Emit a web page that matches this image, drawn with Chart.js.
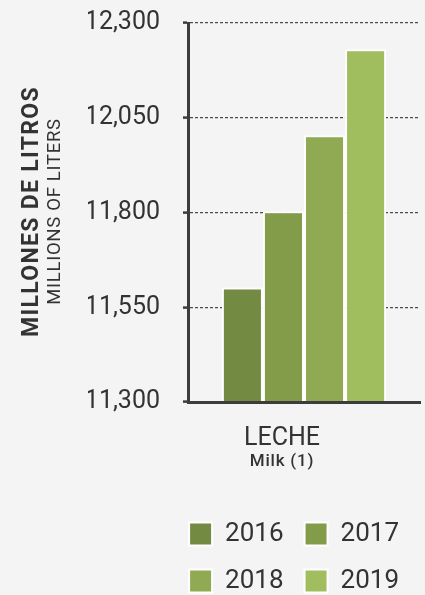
<!DOCTYPE html>
<html>
<head>
<meta charset="utf-8">
<script src="https://cdn.jsdelivr.net/npm/chart.js@4.4.0/dist/chart.umd.min.js"></script>
<style>
html,body{margin:0;padding:0;background:#f4f4f4;overflow:hidden;}
canvas{display:block;}
</style>
</head>
<body>
<canvas id="c" width="425" height="595"></canvas>
<script>
// ---- data ----
const categories = ['LECHE'];
const categorySubtitles = ['Milk (1)'];
const years = ['2016', '2017', '2018', '2019'];
const values2016 = [11602];
const values2017 = [11803];
const values2018 = [12004];
const values2019 = [12231];
const yTickValues = [11300, 11550, 11800, 12050, 12300];
const yTitle = 'MILLONES DE LITROS';
const ySubtitle = 'MILLIONS OF LITERS';

// ---- styles ----
const barColors = ['#738a43', '#829c4a', '#8faa52', '#a1be5f'];
const textColor = '#333333';
const axisColor = '#3c3c3c';

const seriesValues = [values2016, values2017, values2018, values2019];

Chart.defaults.font.family = 'Roboto';
Chart.defaults.color = textColor;

const textPlugin = {
  id: 'extraTexts',
  afterDraw(chart) {
    const {ctx, chartArea, scales} = chart;
    const cy = (chartArea.top + chartArea.bottom) / 2 - 1;
    ctx.save();
    ctx.fillStyle = textColor;
    ctx.textAlign = 'center';
    ctx.textBaseline = 'alphabetic';
    // rotated y titles
    ctx.save();
    ctx.translate(38, cy);
    ctx.rotate(-Math.PI / 2);
    ctx.font = 'bold 23px Roboto';
    ctx.letterSpacing = '1.3px';
    ctx.fillText(yTitle, 0, 0);
    ctx.restore();
    ctx.save();
    ctx.translate(60, cy);
    ctx.rotate(-Math.PI / 2);
    ctx.font = '18.5px Roboto';
    ctx.letterSpacing = '0.7px';
    ctx.fillText(ySubtitle, 0, 0);
    ctx.restore();
    // category subtitle
    const xs = scales.x;
    categorySubtitles.forEach((t, i) => {
      const px = xs.getPixelForTick(i) + xs.options.ticks.labelOffset;
      ctx.font = '500 17px Roboto';
      ctx.letterSpacing = '0.8px';
      ctx.fillText(t, px, 466);
    });
    ctx.restore();
  }
};

new Chart(document.getElementById('c'), {
  type: 'bar',
  data: {
    labels: categories,
    datasets: years.map((y, i) => ({
      label: y,
      data: seriesValues[i],
      backgroundColor: barColors[i],
      borderColor: '#ffffff',
      borderWidth: 2,
      borderSkipped: false,
      categoryPercentage: 0.708,
      barPercentage: 1
    }))
  },
  options: {
    responsive: false,
    animation: false,
    devicePixelRatio: 1,
    locale: 'en-US',
    layout: { padding: { left: 88, right: 5, top: 23, bottom: 0 } },
    plugins: {
      tooltip: { enabled: false },
      legend: {
        position: 'bottom',
        align: 'end',
        maxHeight: 95,
        labels: {
          boxWidth: 23,
          boxHeight: 23,
          padding: 21,
          color: textColor,
          font: { size: 26 }
        }
      }
    },
    scales: {
      x: {
        grid: { display: false },
        border: { display: true, color: axisColor, width: 3, z: 1 },
        ticks: { color: textColor, font: { size: 25 }, padding: 14, labelOffset: -22 },
        afterFit: (s) => { s.height = 98; }
      },
      y: {
        min: 11300,
        max: 12300,
        afterBuildTicks: (s) => { s.ticks = yTickValues.map(v => ({ value: v })); },
        grid: {
          color: '#4a4a4a',
          lineWidth: 1.2,
          drawTicks: true,
          tickLength: 5,
          tickColor: axisColor,
          tickWidth: 2.5
        },
        border: { display: true, color: axisColor, width: 3, dash: [3, 2] },
        ticks: {
          color: textColor,
          font: { size: 25 },
          padding: 23,
          callback: (v) => Number(v).toLocaleString('en-US')
        },
        afterFit: (s) => { s.width = 100; s.paddingTop = 0; s.paddingBottom = 0; }
      }
    }
  },
  plugins: [textPlugin]
});
</script>
</body>
</html>
